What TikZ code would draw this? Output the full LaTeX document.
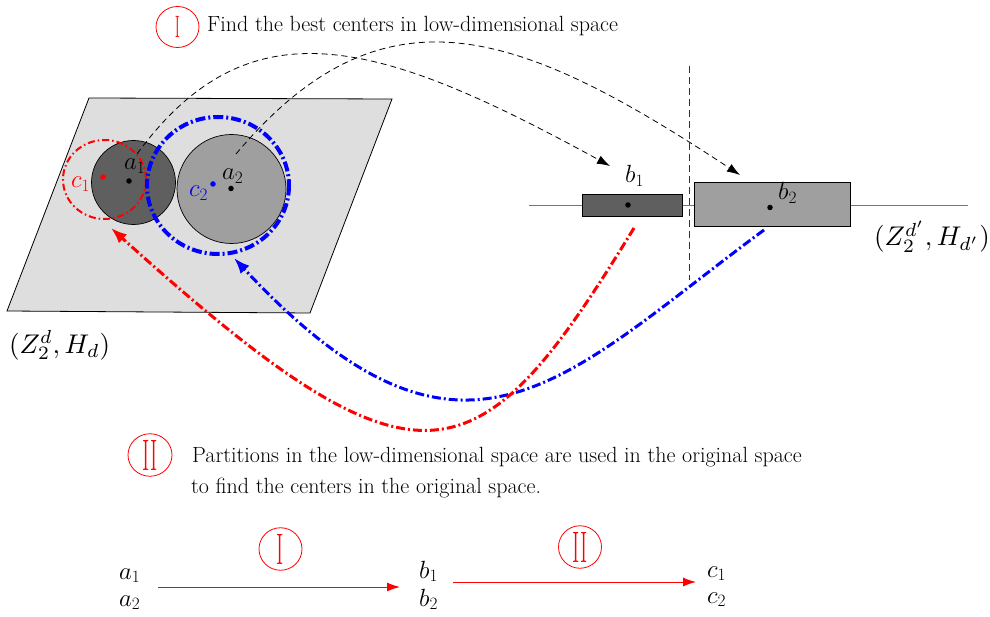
\documentclass[tikz,border=0pt]{standalone}
\usetikzlibrary{arrows.meta,shapes.geometric}
\definecolor{pgray}{HTML}{DEDEDE}
\definecolor{dgray}{HTML}{5F5F5F}
\definecolor{lgray}{HTML}{9F9F9F}
\definecolor{lineg}{HTML}{777777}
\tikzset{
 inlbl/.style={font=\fontsize{24}{28}\selectfont, inner sep=0pt, anchor=base west},
 rowlbl/.style={font=\fontsize{25}{30}\selectfont, inner sep=0pt, anchor=base west},
 spacelbl/.style={inner sep=0pt, anchor=base west},
 txt/.style={font=\fontsize{22}{31}\selectfont, inner sep=0pt, anchor=base west},
 numcirc/.style={draw=red, line width=0.8pt, ellipse, minimum width=43pt, minimum height=41pt, inner sep=0pt, text=red},
 dotc/.style={circle, fill, inner sep=0pt, minimum size=5.5pt},
 dasharrow/.style={line width=0.8pt, dash pattern=on 6pt off 4pt, -{Latex[length=13pt,width=9pt]}},
 backarrow/.style={line width=3pt, dash pattern=on 9pt off 3pt on 2pt off 3pt, -{Latex[length=16pt,width=12pt]}},
 rowarrow/.style={red, line width=1pt, -{Latex[length=13pt,width=9pt]}},
}
\newcommand{\romI}[1]{\scalebox{0.5}[1]{\fontsize{#1}{#1}\selectfont I}}
\newcommand{\romII}[1]{\scalebox{0.5}[1]{\fontsize{#1}{#1}\selectfont II}}
\begin{document}
\begin{tikzpicture}[x=1pt,y=-1pt]
\useasboundingbox (0,0) rectangle (990,617);
\fill[white] (0,0) rectangle (990,617);

% top caption
\node[numcirc] (n1) at (177.5,27) {\romI{31}};
\node[txt] (t1) at (207,32) {Find the best centers in low-dimensional space};

% plane
\draw[line width=0.8pt, fill=pgray] (89,98) -- (392,99) -- (310,313) -- (7,311) -- cycle;
\node[spacelbl] (zd) at (9,353) {\scalebox{2.7}{$(Z_2^d, H_d)$}};

% circles
\node[circle, draw, line width=0.7pt, fill=dgray, minimum size=84pt, inner sep=0pt] (A1) at (133.5,182.5) {};
\node[circle, draw, line width=0.7pt, fill=lgray, minimum size=109pt, inner sep=0pt] (A2) at (231.5,189) {};
\draw[red, line width=2pt, dash pattern=on 7pt off 3pt on 1.5pt off 3pt] (104.5,179.5) ellipse [x radius=41.5, y radius=39.5];
\draw[blue, line width=4pt, dash pattern=on 10pt off 3pt on 2pt off 3pt] (218,185.5) ellipse [x radius=71, y radius=68.5];

\node[dotc] (da1) at (129,181) {};
\node[dotc] (da2) at (231,188.5) {};
\node[dotc, red] (dc1) at (103,177) {};
\node[dotc, blue] (dc2) at (213,184) {};
\node[inlbl] (la1) at (124,170) {$a_1$};
\node[inlbl] (la2) at (222,180) {$a_2$};
\node[inlbl, text=red] (lc1) at (71,188) {$c_1$};
\node[inlbl, text=blue] (lc2) at (189,197) {$c_2$};

% right side line and boxes
\draw[lineg, line width=1.2pt] (529,205.5) -- (968,205.5);
\node[draw, line width=0.8pt, fill=dgray, minimum width=100pt, minimum height=22pt, inner sep=0pt] (B1) at (632,205) {};
\node[draw, line width=0.8pt, fill=lgray, minimum width=156pt, minimum height=44pt, inner sep=0pt] (B2) at (772,204) {};
\node[dotc] (db1) at (628,205) {};
\node[dotc] (db2) at (770,207.5) {};
\node[inlbl] (lb1) at (625,183) {$b_1$};
\node[inlbl] (lb2) at (778,200) {$b_2$};
\coordinate (vtop) at (689,66);
\coordinate (vbot) at (689,280);
\draw[black!80, line width=0.8pt, dash pattern=on 7pt off 4pt] (vtop) -- (vbot);
\node[spacelbl] (zdp) at (874,246) {\scalebox{2.7}{$(Z_2^{d'}, H_{d'})$}};

% dashed arrows
\coordinate (s1) at (137,154);
\coordinate (e1) at (610,166);
\coordinate (s2) at (236,154);
\coordinate (e2) at (740,175);
\draw[dasharrow] (s1) .. controls (250,0) and (380,40) .. (e1);
\draw[dasharrow] (s2) .. controls (384,-22) and (520,30) .. (e2);

% back arrows
\coordinate (rs) at (634,228);
\coordinate (re) at (111,228);
\coordinate (bs) at (764,230);
\coordinate (be) at (234,258);
\draw[backarrow, blue] (bs) .. controls (564,377.5) and (465,506) .. (be);
\draw[backarrow, red] (rs) .. controls (478,483) and (422,509) .. (re);

% second caption
\node[numcirc, minimum width=44pt, minimum height=42pt] (n2) at (150,455) {\romII{44}};
\node[txt] (t2a) at (192,462) {Partitions in the low-dimensional space are used in the original space};
\node[txt] (t2b) at (191,493) {to find the centers in the original space.};

% bottom row
\node[rowlbl] (ra1) at (119,579) {$a_1$};
\node[rowlbl] (ra2) at (119,606) {$a_2$};
\node[rowlbl] (rb1) at (419,578) {$b_1$};
\node[rowlbl] (rb2) at (419,606) {$b_2$};
\node[rowlbl] (rc1) at (707,577) {$c_1$};
\node[rowlbl] (rc2) at (707,603) {$c_2$};
\coordinate (ar1s) at (158,587);
\coordinate (ar1e) at (400,587);
\coordinate (ar2s) at (453,582);
\coordinate (ar2e) at (696,582);
\draw[rowarrow] (ar1s) -- (ar1e);
\draw[rowarrow] (ar2s) -- (ar2e);
\node[numcirc] (n3) at (280.5,549) {\romI{44}};
\node[numcirc] (n4) at (580,547) {\romII{44}};
\end{tikzpicture}
\end{document}
